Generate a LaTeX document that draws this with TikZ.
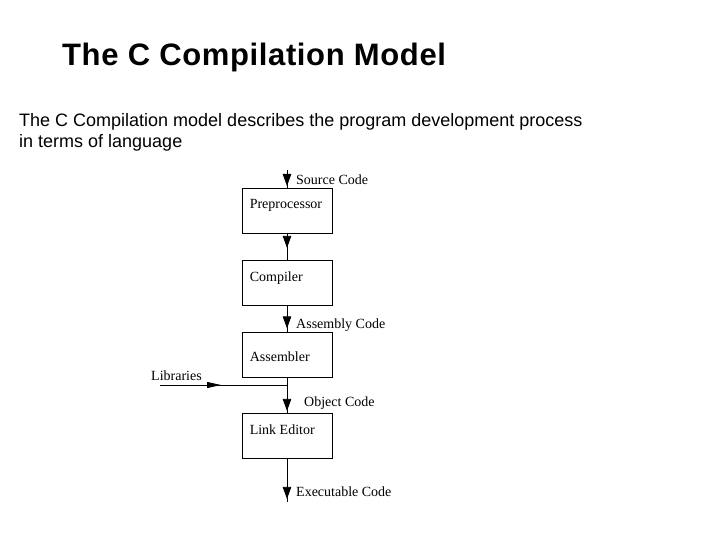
\documentclass[tikz,border=0pt]{standalone}
\usepackage{fontspec}
\setmainfont{Liberation Serif}
\newfontfamily\slidefont{Liberation Sans}
\newfontfamily\titlefont[LetterSpace=2]{Liberation Sans}
\usetikzlibrary{arrows.meta,decorations.markings}
\tikzset{
  stage/.style 2 args={draw, line width=0.8pt, minimum width=90pt, minimum height=45pt, inner sep=0pt,
    label={[anchor=base west, inner sep=0pt, xshift=8pt, yshift=-#2pt]north west:#1}},
  flow/.style={line width=0.8pt, decoration={markings,
    mark=at position #1 with {\arrow{Triangle[length=12pt,width=8.5pt]}}}, postaction={decorate}},
  feed/.style={line width=0.8pt, decoration={markings,
    mark=at position #1 with {\arrow{Triangle[length=14pt,width=6pt]}}}, postaction={decorate}},
  tag/.style={anchor=base west, inner sep=0pt},
}
\begin{document}
\begin{tikzpicture}[x=1pt,y=-1pt,font=\fontsize{14}{16}\selectfont]
\useasboundingbox (0,0) rectangle (720,540);
% heading and intro
\node [tag, font=\titlefont\bfseries\fontsize{31}{36}\selectfont] (title) at (62,66) {The C Compilation Model};
\node [tag, font=\slidefont\fontsize{18}{21}\selectfont] (intro1) at (19,126.7) {The C Compilation model describes the program development process};
\node [tag, font=\slidefont\fontsize{18}{21}\selectfont] (intro2) at (19,147.3) {in terms of language};
% stages
\node [stage={Preprocessor}{21}] (pre) at (287,210.5) {};
\node [stage={Compiler}{21.5}] (comp) at (287,282.5) {};
\node [stage={Assembler}{29}] (asm) at (287,355) {};
\node [stage={Link Editor}{21}] (link) at (287,436) {};
% connectors
\coordinate (src) at (287,170);
\coordinate (exe) at (287,502);
\coordinate (lib) at (160,385);
\draw [flow=16pt] (src) -- (pre);
\draw [flow=14.5pt] (pre) -- (comp);
\draw [flow=23pt] (comp) -- (asm);
\draw [flow=33pt] (asm) -- (link);
\draw [flow=40pt] (link) -- (exe);
\draw [feed=61pt] (lib) -- (lib -| asm.south);
% code labels
\node [tag] (srclbl) at (296,185) {Source Code};
\node [tag] (asmlbl) at (296,328) {Assembly Code};
\node [tag] (objlbl) at (304,406.5) {Object Code};
\node [tag] (exelbl) at (296,496.5) {Executable Code};
\node [tag] (liblbl) at (151,380) {Libraries};
\end{tikzpicture}
\end{document}
